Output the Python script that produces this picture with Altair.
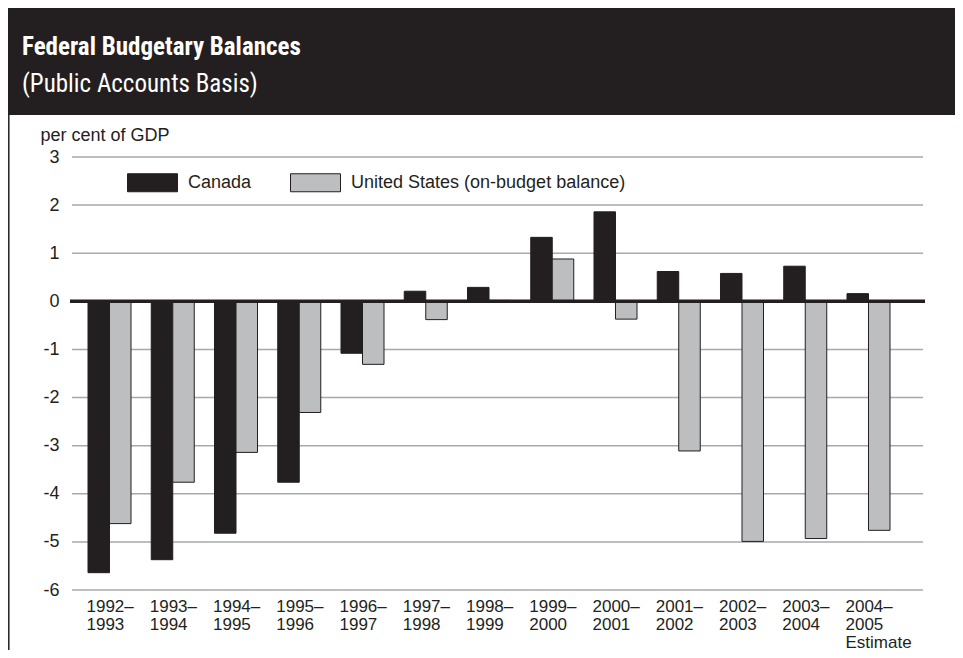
import altair as alt
import pandas as pd

years = ["1992–1993", "1993–1994", "1994–1995", "1995–1996", "1996–1997",
         "1997–1998", "1998–1999", "1999–2000", "2000–2001", "2001–2002",
         "2002–2003", "2003–2004", "2004–2005"]
canada = [-5.64, -5.37, -4.82, -3.76, -1.08, 0.21, 0.29, 1.33, 1.86, 0.62, 0.58, 0.73, 0.16]
us = [-4.62, -3.76, -3.14, -2.31, -1.31, -0.38, 0.02, 0.88, -0.37, -3.11, -4.99, -4.93, -4.76]
series_names = ["Canada", "United States (on-budget balance)"]
y_ticks = [-6, -5, -4, -3, -2, -1, 0, 1, 2, 3]

rows = []
for i, yr in enumerate(years):
    rows.append({"year": yr, "series": series_names[0], "value": canada[i]})
    rows.append({"year": yr, "series": series_names[1], "value": us[i]})
df = pd.DataFrame(rows)
ticks_df = pd.DataFrame({"t": y_ticks})

W, H = 851, 433
PL, PT, PR, PB = 64, 149, 32, 60
DARK = "#231f20"
GRAY = "#bcbec0"
GRID = "#a7a9ac"
FONT = "Liberation Sans, Arial, Helvetica, sans-serif"
NARROW = "Liberation Sans Narrow, Arial Narrow, Roboto Condensed, DejaVu Sans Condensed, Liberation Sans, sans-serif"

one = pd.DataFrame({"k": [0]})

label_expr = ("datum.value == '2004–2005' ? ['2004–', '2005', 'Estimate'] : "
              "[slice(datum.value, 0, 5), slice(datum.value, 5)]")

yscale = alt.Scale(domain=[-6, 3], nice=False, zero=False)

header = alt.Chart(one).mark_rect(color=DARK, clip=False).encode(
    x=alt.value(-PL), x2=alt.value(W + PR), y=alt.value(-PT), y2=alt.value(-42)
)
border = alt.Chart(one).mark_rule(color=DARK, strokeWidth=1.5, clip=False).encode(
    x=alt.value(-63.2), y=alt.value(-42), y2=alt.value(H + PB)
)
title = alt.Chart(one).mark_text(
    align="left", baseline="alphabetic", font=NARROW, fontSize=25,
    fontWeight="bold", color="white", clip=False
).encode(x=alt.value(-50), y=alt.value(-102), text=alt.value("Federal Budgetary Balances"))
subtitle = alt.Chart(one).mark_text(
    align="left", baseline="alphabetic", font=NARROW, fontSize=25,
    color="white", clip=False
).encode(x=alt.value(-50), y=alt.value(-65), text=alt.value("(Public Accounts Basis)"))

grid = alt.Chart(ticks_df).mark_rule(color=GRID, strokeWidth=1.5).encode(
    y=alt.Y("t:Q", scale=yscale), x=alt.value(0), x2=alt.value(W)
)

bars = alt.Chart(df).mark_bar(stroke=DARK, strokeWidth=1).encode(
    x=alt.X("year:N", sort=years, title=None,
            scale=alt.Scale(range=[16, 818], paddingInner=0.32, paddingOuter=0),
            axis=alt.Axis(labelAngle=0, labelAlign="left", labelOffset=-23,
                          ticks=False, domain=False, labelFontSize=17, labelFont=FONT,
                          labelColor=DARK, labelPadding=8, labelExpr=label_expr,
                          labelLineHeight=18, labelBaseline="top")),
    xOffset=alt.XOffset("series:N", sort=series_names,
                        scale=alt.Scale(paddingInner=0, paddingOuter=0)),
    y=alt.Y("value:Q", scale=yscale,
            axis=alt.Axis(values=y_ticks, grid=False,
                          domain=False, ticks=False, labelFontSize=18, labelFont=FONT,
                          labelPadding=13, labelColor=DARK,
                          labelExpr="toString(datum.value)",
                          title="per cent of GDP", titleAngle=0, titleAlign="left",
                          titleX=-32, titleY=-17, titleFontSize=18, titleFont=FONT,
                          titleFontWeight="normal", titleColor=DARK,
                          titleBaseline="alphabetic")),
    color=alt.Color("series:N", sort=series_names,
                    scale=alt.Scale(domain=series_names, range=[DARK, GRAY]),
                    legend=alt.Legend(orient="none", legendX=55, legendY=0,
                                      direction="horizontal", title=None,
                                      symbolType="M-1,-0.36H1V0.36H-1Z", symbolSize=2500,
                                      symbolStrokeColor=DARK, symbolStrokeWidth=1,
                                      symbolOpacity=1, labelFontSize=18, labelFont=FONT,
                                      labelColor=DARK, labelOffset=10, columnPadding=36,
                                      labelLimit=500, padding=0)),
)

zero = alt.Chart(one).mark_rule(color=DARK, strokeWidth=3.5, clip=False).encode(
    y=alt.Y("k:Q", scale=yscale), x=alt.value(-2), x2=alt.value(W + 2)
)

chart = alt.layer(header, border, title, subtitle, grid, bars, zero).properties(
    width=W, height=H,
    autosize=alt.AutoSizeParams(type="none"),
    padding={"left": PL, "top": PT, "right": PR, "bottom": PB},
).configure_view(stroke=None)

chart.save("out.html", embed_options={"renderer": "svg", "actions": False})
